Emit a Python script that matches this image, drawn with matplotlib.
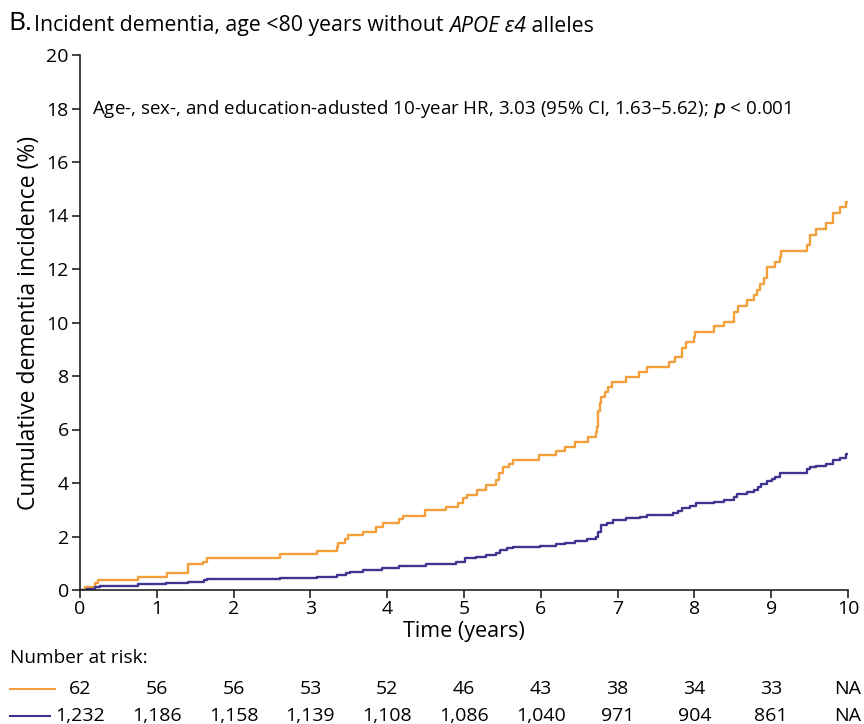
import matplotlib
matplotlib.use("Agg")
import matplotlib.pyplot as plt

plt.rcParams['font.family'] = ['Open Sans', 'DejaVu Sans']

# Orange: APOE e4 carriers group (n=62)
t_orange = [0, 0.065, 0.195, 0.24, 0.76, 1.13, 1.40, 1.60, 1.65, 2.61, 3.09, 3.34, 3.36, 3.45, 3.49,
            3.69, 3.85, 3.94, 4.15, 4.21, 4.49, 4.76, 4.92, 4.99, 5.04, 5.17, 5.29, 5.42, 5.46,
            5.51, 5.58, 5.64, 5.98, 6.20, 6.32, 6.44, 6.61, 6.72, 6.73, 6.75, 6.77, 6.79, 6.83,
            6.88, 6.93, 7.11, 7.28, 7.38, 7.67, 7.75, 7.84, 7.89, 7.99, 8.01, 8.26, 8.39, 8.51,
            8.57, 8.69, 8.77, 8.82, 8.85, 8.91, 8.95, 9.05, 9.12, 9.13, 9.46, 9.50, 9.58, 9.72,
            9.81, 9.90, 9.98, 10.0]
y_orange = [0, 0.10, 0.25, 0.37, 0.50, 0.65, 0.96, 1.06, 1.18, 1.33, 1.47, 1.62, 1.74, 1.89, 2.06,
            2.18, 2.37, 2.49, 2.64, 2.78, 2.99, 3.11, 3.26, 3.43, 3.55, 3.74, 3.93, 4.11, 4.39,
            4.59, 4.71, 4.86, 5.03, 5.20, 5.36, 5.54, 5.71, 5.90, 6.11, 6.68, 6.98, 7.23, 7.41,
            7.60, 7.79, 7.97, 8.16, 8.35, 8.53, 8.72, 9.03, 9.28, 9.47, 9.66, 9.87, 10.03, 10.40,
            10.62, 10.84, 11.03, 11.21, 11.44, 11.65, 12.06, 12.27, 12.46, 12.68, 12.90, 13.27,
            13.50, 13.71, 14.11, 14.33, 14.52, 14.52]

# Blue: reference group (n=1,232)
t_blue = [0, 0.09, 0.195, 0.26, 0.76, 1.12, 1.41, 1.61, 1.65, 2.60, 3.09, 3.34, 3.47, 3.51, 3.69,
          3.93, 4.15, 4.51, 4.90, 5.01, 5.16, 5.29, 5.42, 5.47, 5.56, 5.64, 5.99, 6.20, 6.32,
          6.45, 6.60, 6.72, 6.75, 6.79, 6.86, 6.94, 7.11, 7.29, 7.38, 7.72, 7.78, 7.84, 7.94,
          8.02, 8.26, 8.39, 8.51, 8.55, 8.68, 8.77, 8.83, 8.87, 8.94, 9.01, 9.05, 9.12, 9.47,
          9.50, 9.58, 9.72, 9.81, 9.90, 9.98, 10.0]
y_blue = [0, 0.03, 0.10, 0.15, 0.21, 0.27, 0.31, 0.37, 0.40, 0.44, 0.50, 0.56, 0.62, 0.68, 0.75,
          0.81, 0.90, 0.97, 1.06, 1.18, 1.22, 1.31, 1.40, 1.50, 1.56, 1.62, 1.66, 1.72, 1.77,
          1.83, 1.89, 2.00, 2.18, 2.43, 2.52, 2.62, 2.68, 2.72, 2.80, 2.87, 2.97, 3.05, 3.14,
          3.26, 3.30, 3.36, 3.49, 3.59, 3.68, 3.74, 3.84, 3.96, 4.07, 4.15, 4.24, 4.36, 4.51,
          4.59, 4.64, 4.71, 4.86, 4.92, 5.08, 5.08]

risk_times = [0, 1, 2, 3, 4, 5, 6, 7, 8, 9, 10]
risk_orange = ["62", "56", "56", "53", "52", "46", "43", "38", "34", "33", "NA"]
risk_blue = ["1,232", "1,186", "1,158", "1,139", "1,108", "1,086", "1,040", "971", "904", "861", "NA"]

orange = "#F3A03C"
blue = "#3E3591"

fig = plt.figure(figsize=(8.64, 7.24), dpi=100)
ax = fig.add_axes([80/864, 1-590/724, 768/864, 535/724])

ax.plot(t_orange, y_orange, drawstyle="steps-post", color=orange, lw=1.7)
ax.plot(t_blue, y_blue, drawstyle="steps-post", color=blue, lw=1.7)

ax.set_xlim(0, 10)
ax.set_ylim(0, 20)
ax.set_xticks(range(0, 11))
ax.set_yticks(range(0, 21, 2))
for s in ["top", "right"]:
    ax.spines[s].set_visible(False)
for s in ["left", "bottom"]:
    ax.spines[s].set_linewidth(1.2)
    ax.spines[s].set_color("#222222")
ax.tick_params(axis="both", direction="out", length=6, width=1.2, labelsize=14, color="#222222")
ax.tick_params(axis="y", pad=2)
ax.tick_params(axis="x", pad=1)
ax.set_xlabel("Time (years)", fontsize=15.5, labelpad=2)
ax.set_ylabel("Cumulative dementia incidence (%)", fontsize=16.5, labelpad=4)

ax.text(0.15, 18, "Age-, sex-, and education-adusted 10-year HR, 3.03 (95% CI, 1.63\u20135.62); $\\it{p}$ < 0.001",
        fontsize=13.5, va="center", ha="left")

ty = 1-26/724
fig.text(8/864, 1-24/724, "B.", fontsize=19, va="center", ha="left")
t1 = fig.text(34/864, ty, "Incident dementia, age <80 years without ", fontsize=15.3, va="center", ha="left")
fig.canvas.draw()
bb = t1.get_window_extent()
t2 = fig.text(bb.x1 / fig.bbox.width, ty, "APOE \u03b54", fontsize=15.3, style="italic", va="center", ha="left")
fig.canvas.draw()
bb2 = t2.get_window_extent()
fig.text(bb2.x1 / fig.bbox.width, ty, " alleles", fontsize=15.3, va="center", ha="left")

fig.text(10/864, 1-658/724, "Number at risk:", fontsize=13.7, va="center", ha="left")
y1 = 1-689/724
y2 = 1-716/724
for tt, a, b in zip(risk_times, risk_orange, risk_blue):
    xf = (80 + tt*76.8) / 864
    fig.text(xf, y1, a, fontsize=14, va="center", ha="center")
    fig.text(xf, y2, b, fontsize=14, va="center", ha="center")
fig.add_artist(plt.Line2D([10/864, 55/864], [y1, y1], color=orange, lw=1.5))
fig.add_artist(plt.Line2D([10/864, 50/864], [y2, y2], color=blue, lw=1.5))

fig.savefig("out.png", dpi=100)
